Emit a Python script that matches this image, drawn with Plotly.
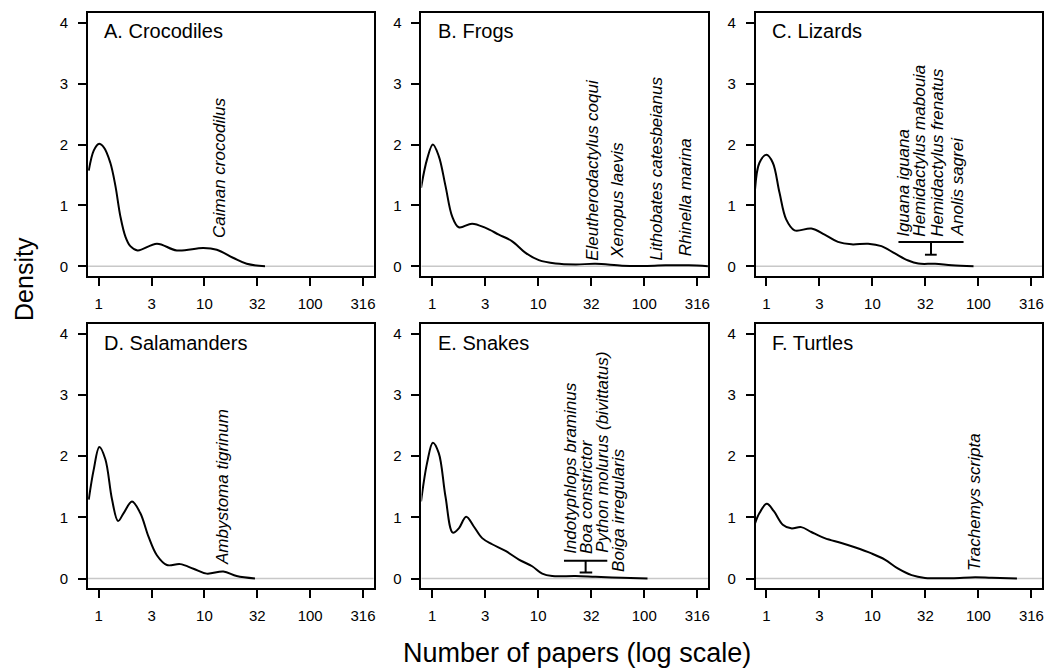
import numpy as np
import plotly.graph_objects as go

# ---------------- data (number of papers, density) ----------------
croc_x = [0.805, 0.897, 1.0, 1.122, 1.288, 1.439, 1.603, 1.786, 1.991, 2.333, 3.556, 5.483, 9.772, 13.09, 18.62, 25.12, 37.41]
croc_y = [1.57, 1.90, 2.01, 1.95, 1.70, 1.32, 0.82, 0.49, 0.33, 0.26, 0.37, 0.26, 0.30, 0.27, 0.14, 0.04, 0.0]

frog_x = [0.787, 0.897, 1.016, 1.156, 1.337, 1.545, 1.786, 2.382, 3.192, 4.256, 5.689, 7.603, 10.14, 14.59, 22.49, 34.75, 61.66, 95.5, 158.5, 263.0, 398.1]
frog_y = [1.29, 1.76, 2.00, 1.81, 1.32, 0.82, 0.64, 0.70, 0.63, 0.52, 0.41, 0.22, 0.10, 0.045, 0.03, 0.04, 0.01, 0.005, 0.015, 0.015, 0.0]

liz_x = [0.78, 0.859, 1.0, 1.148, 1.327, 1.535, 1.841, 2.649, 3.54, 4.73, 6.34, 9.1, 12.16, 16.29, 21.78, 27.1, 39.0, 56.1, 89.9]
liz_y = [1.26, 1.70, 1.83, 1.70, 1.21, 0.77, 0.59, 0.62, 0.52, 0.40, 0.36, 0.37, 0.33, 0.21, 0.094, 0.044, 0.04, 0.016, 0.0]

sal_x = [0.805, 0.897, 1.014, 1.156, 1.337, 1.524, 1.722, 2.065, 2.472, 2.965, 3.548, 4.416, 5.902, 7.87, 10.52, 15.1, 20.18, 30.06]
sal_y = [1.29, 1.78, 2.15, 1.95, 1.29, 0.94, 1.07, 1.26, 1.07, 0.68, 0.38, 0.22, 0.235, 0.16, 0.08, 0.115, 0.04, 0.0]

snake_x = [0.787, 0.897, 1.016, 1.156, 1.337, 1.567, 1.786, 2.094, 2.472, 2.965, 3.681, 4.92, 6.577, 8.77, 10.91, 13.55, 22.49, 34.75, 61.66, 107.2]
snake_y = [1.26, 1.89, 2.22, 2.05, 1.34, 0.75, 0.82, 1.01, 0.85, 0.66, 0.56, 0.45, 0.31, 0.20, 0.08, 0.04, 0.04, 0.027, 0.011, 0.0]

turt_x = [0.78, 0.859, 1.007, 1.175, 1.426, 1.71, 2.128, 2.649, 3.54, 5.093, 6.808, 9.795, 13.09, 17.5, 23.44, 31.33, 56.1, 93.3, 134.0, 231.0]
turt_y = [0.90, 1.07, 1.22, 1.10, 0.88, 0.82, 0.84, 0.76, 0.66, 0.58, 0.51, 0.41, 0.31, 0.16, 0.055, 0.01, 0.005, 0.022, 0.011, 0.0]

panel_titles = ["A. Crocodiles", "B. Frogs", "C. Lizards", "D. Salamanders", "E. Snakes", "F. Turtles"]

# species labels: (name, papers, base density)
croc_labels = [("Caiman crocodilus", 14.06, 0.45)]
frog_labels = [("Eleutherodactylus coqui", 32.4, 0.08), ("Xenopus laevis", 55.0, 0.11),
               ("Lithobates catesbeianus", 129.0, 0.08), ("Rhinella marina", 245.0, 0.14)]
liz_labels = [("Iguana iguana", 19.5, 0.47), ("Hemidactylus mabouia", 28.1, 0.47),
              ("Hemidactylus frenatus", 40.4, 0.47), ("Anolis sagrei", 63.8, 0.47)]
sal_labels = [("Ambystoma tigrinum", 14.9, 0.20)]
snake_labels = [("Indotyphlops braminus", 20.2, 0.38), ("Boa constrictor", 29.0, 0.38),
                ("Python molurus (bivittatus)", 40.2, 0.40), ("Boiga irregularis", 57.0, 0.09)]
turt_labels = [("Trachemys scripta", 93.3, 0.11)]

# brackets: (left, right, centre, bottom-tick left, bottom-tick right, top density, bottom density)
liz_bracket = (17.6, 72.4, 35.7, 31.3, 40.4, 0.40, 0.19)
snake_bracket = (17.5, 44.8, 28.0, 24.6, 32.3, 0.29, 0.10)

tick_vals = [1, 3.162, 10, 31.62, 100, 316.2]
tick_text = ["1", "3", "10", "32", "100", "316"]
y_ticks = [0, 1, 2, 3, 4]

# ---------------- figure ----------------
W, H = 1047, 671
FONT = "Liberation Sans, Arial, Helvetica, sans-serif"

curves = [(croc_x, croc_y), (frog_x, frog_y), (liz_x, liz_y),
          (sal_x, sal_y), (snake_x, snake_y), (turt_x, turt_y)]
labels = [croc_labels, frog_labels, liz_labels, sal_labels, snake_labels, turt_labels]
brackets = {2: liz_bracket, 4: snake_bracket}

xdoms = [(88.3, 374.3), (422.3, 709.3), (757.3, 1044.0)]
ydoms = [(13.0, 276.0), (324.0, 588.3)]

fig = go.Figure()
layout = dict(width=W, height=H, margin=dict(l=0, r=0, t=0, b=0),
              paper_bgcolor="white", plot_bgcolor="white", showlegend=False,
              font=dict(family=FONT, color="black"))
annotations = []
shapes = []

for i in range(6):
    r, c = divmod(i, 3)
    n = "" if i == 0 else str(i + 1)
    xa, ya = "x" + n, "y" + n
    x0, x1 = xdoms[c]
    y0, y1 = ydoms[r]
    layout["xaxis" + n] = dict(
        domain=[x0 / W, x1 / W], anchor=ya, type="log", range=[-0.1, 2.6],
        tickvals=tick_vals, ticktext=tick_text, ticks="outside", ticklen=8, tickwidth=2,
        tickcolor="black", showline=True, linewidth=2, linecolor="black", mirror=True,
        showgrid=False, zeroline=False, tickfont=dict(size=15, family=FONT, color="black"),
        ticklabelstandoff=5, fixedrange=True)
    layout["yaxis" + n] = dict(
        domain=[1 - y1 / H, 1 - y0 / H], anchor=xa, range=[-0.16, 4.16],
        tickvals=y_ticks, ticks="outside", ticklen=8, tickwidth=2, tickcolor="black",
        showline=True, linewidth=2, linecolor="black", mirror=True, showgrid=False,
        zeroline=False, tickfont=dict(size=15, family=FONT, color="black"),
        ticklabelstandoff=7, fixedrange=True)

    shapes.append(dict(type="line", xref=xa + " domain", yref=ya, x0=0, x1=1, y0=0, y1=0,
                       line=dict(color="#c8c8c8", width=1.5), layer="below"))

    cx, cy = curves[i]
    fig.add_trace(go.Scatter(x=cx, y=cy, mode="lines", xaxis=xa, yaxis=ya,
                             line=dict(color="black", width=2, shape="spline", smoothing=1.0),
                             hoverinfo="skip"))

    if i in brackets:
        bl, br, bc, tl, tr, top, bot = brackets[i]
        fig.add_trace(go.Scatter(x=[bl, br, None, bc, bc, None, tl, tr],
                                 y=[top, top, None, top, bot, None, bot, bot],
                                 mode="lines", xaxis=xa, yaxis=ya,
                                 line=dict(color="black", width=2), hoverinfo="skip"))

    annotations.append(dict(text=panel_titles[i], xref=xa + " domain", yref=ya + " domain",
                            x=0.05, y=0.93, xanchor="left", yanchor="middle", showarrow=False,
                            font=dict(size=20, family=FONT, color="black")))

    for name, px_, base in labels[i]:
        annotations.append(dict(text="<i>" + name + "</i>", xref=xa, yref=ya,
                                x=float(np.log10(px_)), y=base, textangle=-90,
                                xanchor="center", yanchor="bottom", showarrow=False,
                                borderpad=0,
                                font=dict(size=17, family=FONT, color="black")))

annotations.append(dict(text="Density", xref="paper", yref="paper", x=24 / W, y=1 - 279 / H,
                        xanchor="center", yanchor="middle", textangle=-90, showarrow=False,
                        font=dict(size=25, family=FONT, color="black")))
annotations.append(dict(text="Number of papers (log scale)", xref="paper", yref="paper",
                        x=578 / W, y=1 - 653 / H, xanchor="center", yanchor="middle",
                        showarrow=False, font=dict(size=27, family=FONT, color="black")))

layout["annotations"] = annotations
layout["shapes"] = shapes
fig.update_layout(**layout)
fig.write_html("out.html", config={"displayModeBar": False, "staticPlot": True},
               post_script="document.body.style.margin='0px';document.body.style.overflow='hidden';")
